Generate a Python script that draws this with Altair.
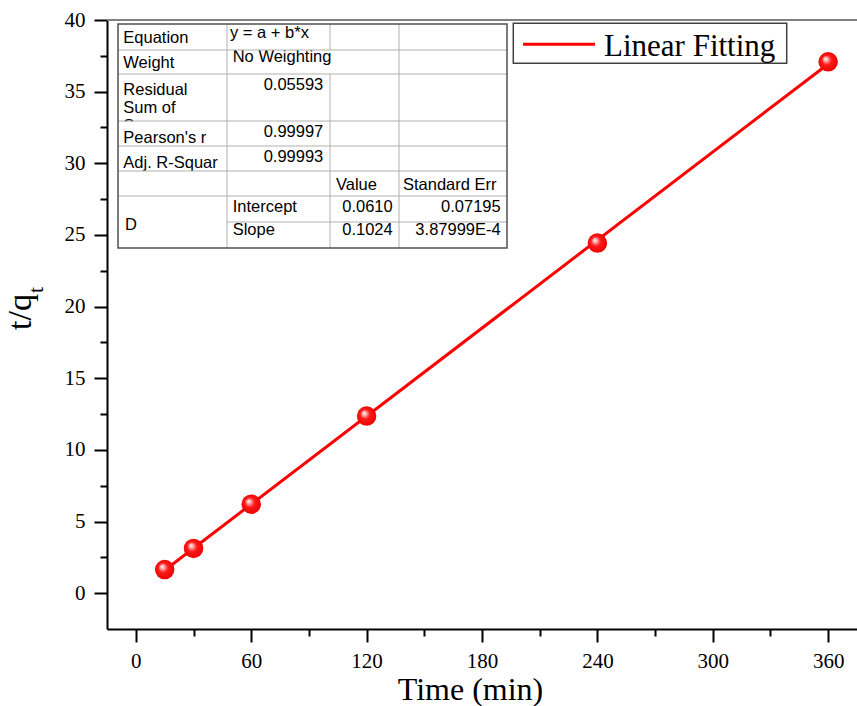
import altair as alt
import pandas as pd

# ---------------- data ----------------
time_min = [15, 30, 60, 120, 240, 360]
t_qt = [1.65, 3.12, 6.21, 12.36, 24.43, 37.08]
fit_x = [15, 360]
fit_y = [1.60, 36.93]

x_major = [0, 60, 120, 180, 240, 300, 360]
x_minor = [30, 90, 150, 210, 270, 330]
y_major = [0, 5, 10, 15, 20, 25, 30, 35, 40]
y_minor = [2.5, 7.5, 12.5, 17.5, 22.5, 27.5, 32.5, 37.5]

table_text = ["Equation", "y = a + b*x", "Weight", "No Weighting",
              "Residual", "Sum of", "0.05593", "Pearson's r", "0.99997",
              "Adj. R-Squar", "0.99993", "Value", "Standard Err", "D",
              "Intercept", "0.0610", "0.07195", "Slope", "0.1024", "3.87999E-4"]
clipped_text = ["Squares"]
legend_label = "Linear Fitting"

# ---------------- layout (pixels, relative to plot area) ----------------
W, H = 750, 609
SERIF = "Liberation Serif"
SANS = "Liberation Sans"

tx = [16.3, 123, 16.3, 125.7, 16.3, 16.3, 216.3, 16.3, 216.3, 16.3, 216.3,
      229, 296, 18, 125.7, 285.7, 393.7, 125.7, 285.7, 393.7]
ty = [23.3, 18.3, 48.3, 41.7, 75, 93, 70, 122.7, 116.7, 148.3, 141.7,
      170, 170, 210, 191.7, 191.7, 191.7, 215, 215, 215]
ta = ["left", "left", "left", "left", "left", "left", "right", "left", "right",
      "left", "right", "left", "left", "left", "left", "right", "right",
      "left", "right", "right"]

T_L, T_R, T_T, T_B = 11, 400, 4, 228
col_x = [120, 223, 292]
row_y = [30, 54, 101, 126, 151, 176, 202]

# ---------------- frames ----------------
pts = pd.DataFrame({"t": time_min, "y": t_qt})
fit = pd.DataFrame({"t": fit_x, "y": fit_y})

xscale = alt.Scale(domain=[-15, 375], nice=False, zero=False)
yscale = alt.Scale(domain=[-2.5, 40], nice=False, zero=False)

major_x = alt.Axis(values=x_major, orient="bottom", tickSize=13, tickWidth=2,
                   tickColor="black", domainColor="black", domainWidth=2,
                   labelFont=SERIF, labelFontSize=21, labelColor="black",
                   labelPadding=8, grid=False, title="Time (min)",
                   titleFont=SERIF, titleFontSize=32, titleFontWeight="normal",
                   titleColor="black", titleX=363, titleY=70,
                   titleAlign="center", titleBaseline="alphabetic")
major_y = alt.Axis(values=y_major, orient="left", tickSize=13, tickWidth=2,
                   tickColor="black", domainColor="black", domainWidth=2,
                   labelFont=SERIF, labelFontSize=21, labelColor="black",
                   labelPadding=9, grid=False, title=None)
minor_x = alt.Axis(values=x_minor, orient="bottom", tickSize=7, tickWidth=2,
                   tickColor="black", domain=False, labels=False, grid=False,
                   title=None)
minor_y = alt.Axis(values=y_minor, orient="left", tickSize=7, tickWidth=2,
                   tickColor="black", domain=False, labels=False, grid=False,
                   title=None)

fit_line = alt.Chart(fit).mark_line(color="#ff0000", strokeWidth=3).encode(
    x=alt.X("t:Q", scale=xscale, axis=major_x),
    y=alt.Y("y:Q", scale=yscale, axis=major_y),
)

minor_layer = alt.Chart(fit).mark_line(opacity=0).encode(
    x=alt.X("t:Q", scale=xscale, axis=minor_x),
    y=alt.Y("y:Q", scale=yscale, axis=minor_y),
)

sphere = alt.RadialGradient(
    gradient="radial",
    stops=[alt.GradientStop(offset=0, color="#ffffff"),
           alt.GradientStop(offset=0.18, color="#ffb0b0"),
           alt.GradientStop(offset=0.45, color="#ff1a1a"),
           alt.GradientStop(offset=1, color="#e60000")],
    x1=0.36, y1=0.34, r1=0, x2=0.5, y2=0.5, r2=0.55,
)
points = alt.Chart(pts).mark_point(shape="circle", filled=True, size=380,
                                   fill=sphere, opacity=1, strokeWidth=0).encode(
    x=alt.X("t:Q", scale=xscale, axis=None),
    y=alt.Y("y:Q", scale=yscale, axis=None),
)

# top frame line (grey)
top_line = alt.Chart(pd.DataFrame({"a": [0]})).mark_rule(
    color="#808080", strokeWidth=2).encode(
    x=alt.value(0), x2=alt.value(W), y=alt.value(0))

# y title with subscript
ytitle = alt.Chart(pd.DataFrame({"s": ["t/q"]})).mark_text(
    font=SERIF, fontSize=34, angle=270, align="left", baseline="alphabetic",
    color="black").encode(text="s:N", x=alt.value(-76), y=alt.value(310))
ysub = alt.Chart(pd.DataFrame({"s": ["t"]})).mark_text(
    font=SERIF, fontSize=22, angle=270, align="left", baseline="alphabetic",
    color="black").encode(text="s:N", x=alt.value(-64), y=alt.value(273))

# table
def px(name):
    return alt.X(f"{name}:Q", scale=None, axis=None)

def py(name):
    return alt.Y(f"{name}:Q", scale=None, axis=None)

table_bg = alt.Chart(pd.DataFrame({"x": [T_L], "x2": [T_R], "y": [T_T], "y2": [T_B]})).mark_rect(
    fill="white").encode(x=px("x"), x2="x2", y=py("y"), y2="y2")

clip_df = pd.DataFrame({"s": clipped_text, "x": [16.3], "y": [110.7]})
clip_txt = alt.Chart(clip_df).mark_text(font=SANS, fontSize=16.5, align="left",
                                        baseline="alphabetic", color="black").encode(
    text="s:N", x=px("x"), y=py("y"))
cover = alt.Chart(pd.DataFrame({"x": [T_L + 1], "x2": [col_x[0] - 1], "y": [row_y[2] + 0.5], "y2": [row_y[3]]})).mark_rect(
    fill="white").encode(x=px("x"), x2="x2", y=py("y"), y2="y2")

txt_df = pd.DataFrame({"s": table_text, "x": tx, "y": ty, "a": ta})
txt_left = alt.Chart(txt_df[txt_df.a == "left"]).mark_text(
    font=SANS, fontSize=16.5, align="left", baseline="alphabetic", color="black").encode(
    text="s:N", x=px("x"), y=py("y"))
txt_right = alt.Chart(txt_df[txt_df.a == "right"]).mark_text(
    font=SANS, fontSize=16.5, align="right", baseline="alphabetic", color="black").encode(
    text="s:N", x=px("x"), y=py("y"))

inner = []
for yy in row_y[:6]:
    inner.append((T_L, yy, T_R, yy))
inner.append((col_x[0], row_y[6], T_R, row_y[6]))
inner.append((col_x[0], T_T, col_x[0], T_B))
inner.append((col_x[1], T_T, col_x[1], row_y[0]))
inner.append((col_x[1], row_y[1], col_x[1], T_B))
inner.append((col_x[2], T_T, col_x[2], T_B))
inner_df = pd.DataFrame(inner, columns=["x", "y", "x2", "y2"])
inner_lines = alt.Chart(inner_df).mark_rule(color="#b0b0b0", strokeWidth=1).encode(
    x=px("x"), y=py("y"), x2="x2", y2="y2")

border_df = pd.DataFrame({"x": [T_L], "x2": [T_R], "y": [T_T], "y2": [T_B]})
table_border = alt.Chart(border_df).mark_rect(
    fill=None, stroke="#505050", strokeWidth=1.5).encode(
    x=px("x"), x2="x2", y=py("y"), y2="y2")

# legend
leg_box = alt.Chart(pd.DataFrame({"x": [406.3], "x2": [679.7], "y": [3.3], "y2": [43.3]})).mark_rect(
    fill="white", stroke="#404040", strokeWidth=1.5).encode(
    x=px("x"), x2="x2", y=py("y"), y2="y2")
leg_line = alt.Chart(pd.DataFrame({"x": [416], "x2": [488], "y": [24.3]})).mark_rule(
    color="#ff0000", strokeWidth=3).encode(x=px("x"), x2="x2", y=py("y"))
leg_txt = alt.Chart(pd.DataFrame({"s": [legend_label], "x": [497], "y": [35.7]})).mark_text(
    font=SERIF, fontSize=31, align="left", baseline="alphabetic", color="black").encode(
    text="s:N", x=px("x"), y=py("y"))

chart = alt.layer(
    minor_layer, fit_line, points, top_line, ytitle, ysub,
    table_bg, clip_txt, cover, txt_left, txt_right, inner_lines, table_border,
    leg_box, leg_line, leg_txt,
).resolve_scale(x="independent", y="independent").resolve_axis(
    x="independent", y="independent"
).properties(
    width=W, height=H,
    padding={"left": 107, "top": 20, "right": 0, "bottom": 77},
    autosize=alt.AutoSizeParams(type="none"),
    background="white",
).configure_view(stroke=None)

chart.save("out.html", embed_options={"renderer": "svg", "actions": False})
